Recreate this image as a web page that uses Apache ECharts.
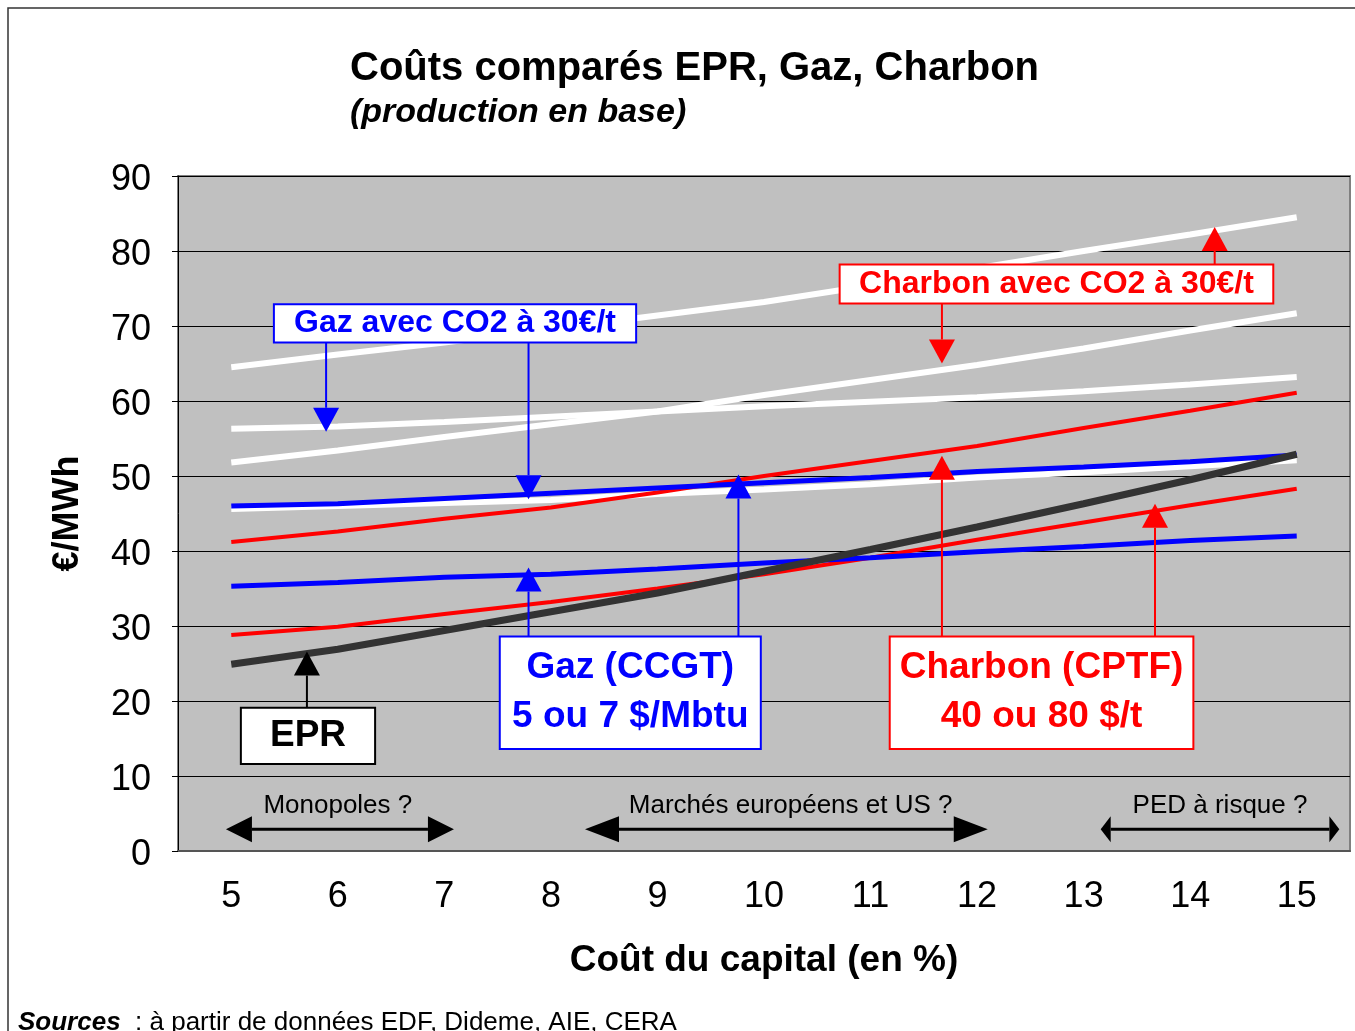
<!DOCTYPE html>
<html>
<head>
<meta charset="utf-8">
<title>Coûts comparés EPR, Gaz, Charbon</title>
<script src="https://cdn.jsdelivr.net/npm/echarts@6/dist/echarts.min.js"></script>
<style>
  html, body { margin: 0; padding: 0; background: #fff; }
  #main { width: 1355px; height: 1031px; }
</style>
</head>
<body>
<div id="main"></div>
<script>
// coût du capital (%)
var capital = ['5', '6', '7', '8', '9', '10', '11', '12', '13', '14', '15'];

// €/MWh
var epr          = [24.9, 26.9, 29.4, 31.9, 34.4, 37.3, 40.2, 43.2, 46.3, 49.5, 52.9];
var gaz5         = [35.3, 35.8, 36.5, 36.9, 37.6, 38.4, 39.1, 39.9, 40.6, 41.4, 42.0];
var gaz7         = [46.0, 46.3, 47.0, 47.7, 48.4, 49.1, 49.8, 50.6, 51.2, 51.9, 52.8];
var charbon40    = [28.8, 29.9, 31.6, 33.2, 35.0, 36.9, 39.1, 41.5, 43.8, 46.1, 48.3];
var charbon80    = [41.2, 42.6, 44.3, 45.8, 47.8, 50.0, 52.0, 54.0, 56.4, 58.7, 61.1];
var gaz5Co2      = [45.6, 46.0, 46.4, 46.8, 47.6, 48.2, 48.9, 49.8, 50.5, 51.3, 52.1];
var gaz7Co2      = [56.3, 56.6, 57.2, 57.9, 58.6, 59.3, 59.9, 60.5, 61.3, 62.2, 63.2];
var charbon40Co2 = [51.8, 53.4, 55.2, 56.9, 58.6, 60.8, 62.8, 64.8, 67.0, 69.4, 71.7];
var charbon80Co2 = [64.5, 66.2, 67.8, 69.6, 71.4, 73.2, 75.4, 77.7, 80.0, 82.2, 84.5];

var FONT = 'Arial, "Liberation Sans", sans-serif';
var BLUE = '#0000ff', RED = '#ff0000', BLACK = '#000000';

var chart = echarts.init(document.getElementById('main'));

function line(name, data, color, width) {
  return {
    name: name,
    type: 'line',
    data: data,
    symbol: 'none',
    lineStyle: { color: color, width: width, cap: 'butt' },
    silent: true
  };
}

var option = {
  animation: false,
  backgroundColor: '#ffffff',
  title: [{
    text: 'Coûts comparés EPR, Gaz, Charbon',
    left: 345,
    top: 44,
    textStyle: { fontFamily: FONT, fontSize: 40, fontWeight: 'bold', color: '#000' }
  }, {
    text: '(production en base)',
    left: 345,
    top: 91,
    textStyle: { fontFamily: FONT, fontSize: 34, fontWeight: 'bold', fontStyle: 'italic', color: '#000' }
  }, {
    text: '{b|Sources}  : à partir de données EDF, Dideme, AIE, CERA',
    left: 13,
    top: 1005,
    textStyle: {
      fontFamily: FONT, fontSize: 26, fontWeight: 'normal', color: '#000',
      rich: { b: { fontFamily: FONT, fontSize: 26, fontWeight: 'bold', fontStyle: 'italic', color: '#000' } }
    }
  }],
  grid: {
    left: 178, top: 176, width: 1172, height: 675,
    show: true, backgroundColor: '#c0c0c0', borderColor: '#808080', borderWidth: 2
  },
  xAxis: [{
    type: 'category',
    data: capital,
    boundaryGap: true,
    axisLine: { show: true, lineStyle: { color: '#555', width: 2 } },
    axisTick: { show: false },
    axisLabel: { fontFamily: FONT, fontSize: 36, color: '#000', margin: 28 },
    splitLine: { show: false },
    name: 'Coût du capital (en %)',
    nameLocation: 'middle',
    nameGap: 91,
    nameTextStyle: { fontFamily: FONT, fontSize: 37, fontWeight: 'bold', color: '#000' }
  }, {
    // axe caché pour placer les annotations en coordonnées (%)
    type: 'value', min: 4.5, max: 15.5, show: false
  }],
  yAxis: {
    type: 'value',
    min: 0, max: 90, interval: 10,
    axisLine: { show: true, lineStyle: { color: '#000', width: 1 } },
    axisTick: { show: true, length: 6, lineStyle: { color: '#000' } },
    axisLabel: {
      margin: 27,
      formatter: '{v|{value}}',
      rich: { v: { fontFamily: FONT, fontSize: 36, color: '#000', padding: [8, 0, 0, 0] } }
    },
    splitLine: { show: true, lineStyle: { color: '#000', width: 1 } },
    name: '€/MWh',
    nameLocation: 'middle',
    nameRotate: 90,
    nameGap: 92,
    nameTextStyle: { fontFamily: FONT, fontSize: 36, fontWeight: 'bold', color: '#000' }
  },
  series: [
    line('Gaz 5$ + CO2', gaz5Co2, '#ffffff', 6),
    line('Gaz 7$ + CO2', gaz7Co2, '#ffffff', 6),
    line('Charbon 40$ + CO2', charbon40Co2, '#ffffff', 6),
    line('Charbon 80$ + CO2', charbon80Co2, '#ffffff', 6),
    line('Charbon 40$', charbon40, RED, 4),
    line('Charbon 80$', charbon80, RED, 4),
    line('Gaz 5$', gaz5, BLUE, 5),
    line('Gaz 7$', gaz7, BLUE, 5),
    line('EPR', epr, '#333333', 7)
  ]
};
chart.setOption(option);

// annotations (coordonnées en % / €/MWh)
var boxes = [
  { text: 'Gaz avec CO2 à 30€/t', x0: 5.40, x1: 8.80, y0: 72.9, y1: 67.8, color: BLUE, size: 32 },
  { text: 'Charbon avec CO2 à 30€/t', x0: 10.71, x1: 14.78, y0: 78.2, y1: 73.0, color: RED, size: 32 },
  { text: 'EPR', x0: 5.09, x1: 6.35, y0: 19.1, y1: 11.6, color: BLACK, size: 37 },
  { text: 'Gaz (CCGT)\n5 ou 7 $/Mbtu', x0: 7.52, x1: 9.97, y0: 28.6, y1: 13.6, color: BLUE, size: 37 },
  { text: 'Charbon (CPTF)\n40 ou 80 $/t', x0: 11.18, x1: 14.03, y0: 28.6, y1: 13.6, color: RED, size: 37 }
];
var arrows = [
  { x: 5.89, from: 68.6, to: 55.9, color: BLUE },
  { x: 7.79, from: 68.6, to: 46.9, color: BLUE },
  { x: 11.67, from: 73.0, to: 65.0, color: RED },
  { x: 14.23, from: 78.2, to: 83.2, color: RED },
  { x: 5.71, from: 19.1, to: 26.6, color: BLACK },
  { x: 7.79, from: 28.6, to: 37.8, color: BLUE },
  { x: 9.76, from: 28.6, to: 50.2, color: BLUE },
  { x: 11.67, from: 28.6, to: 52.7, color: RED },
  { x: 13.67, from: 28.6, to: 46.3, color: RED }
];
var ranges = [
  { text: 'Monopoles ?', x0: 4.95, x1: 7.09, label: 6.0, head: 26 },
  { text: 'Marchés européens et US ?', x0: 8.32, x1: 12.10, label: 10.25, head: 34 },
  { text: 'PED à risque ?', x0: 13.16, x1: 15.40, label: 14.28, head: 10 }
];

function px(x, y) {
  return chart.convertToPixel({ xAxisIndex: 1, yAxisIndex: 0 }, [x, y]);
}

var graphics = [{
  type: 'rect', silent: true, z: 0,
  shape: { x: 8, y: 8, width: 1400, height: 1100 },
  style: { fill: 'none', stroke: '#333', lineWidth: 1.5 }
}];

arrows.forEach(function (a) {
  var p0 = px(a.x, a.from), p1 = px(a.x, a.to);
  var dir = p1[1] < p0[1] ? 1 : -1; // 1 = vers le haut
  var base = p1[1] + dir * 24;
  graphics.push({
    type: 'line', silent: true, z: 10,
    shape: { x1: p0[0], y1: p0[1], x2: p1[0], y2: base },
    style: { stroke: a.color, lineWidth: 2 }
  });
  graphics.push({
    type: 'polygon', silent: true, z: 10,
    shape: { points: [[p1[0], p1[1]], [p1[0] - 13, base], [p1[0] + 13, base]] },
    style: { fill: a.color }
  });
});

boxes.forEach(function (b) {
  var p0 = px(b.x0, b.y0), p1 = px(b.x1, b.y1);
  graphics.push({
    type: 'rect', silent: true, z: 11,
    shape: { x: p0[0], y: p0[1], width: p1[0] - p0[0], height: p1[1] - p0[1] },
    style: { fill: '#fff', stroke: b.color, lineWidth: 2 }
  });
  graphics.push({
    type: 'text', silent: true, z: 12,
    style: {
      text: b.text,
      x: (p0[0] + p1[0]) / 2, y: (p0[1] + p1[1]) / 2,
      textAlign: 'center', textVerticalAlign: 'middle',
      align: 'center', verticalAlign: 'middle',
      font: 'bold ' + b.size + 'px ' + FONT,
      lineHeight: 49,
      fill: b.color
    }
  });
});

ranges.forEach(function (r) {
  var a = px(r.x0, 2.9), b = px(r.x1, 2.9), c = px(r.label, 6.0);
  var y = a[1];
  graphics.push({
    type: 'line', silent: true, z: 10,
    shape: { x1: a[0] + r.head, y1: y, x2: b[0] - r.head, y2: y },
    style: { stroke: '#000', lineWidth: 3 }
  });
  graphics.push({
    type: 'polygon', silent: true, z: 10,
    shape: { points: [[a[0], y], [a[0] + r.head, y - 13], [a[0] + r.head, y + 13]] },
    style: { fill: '#000' }
  });
  graphics.push({
    type: 'polygon', silent: true, z: 10,
    shape: { points: [[b[0], y], [b[0] - r.head, y - 13], [b[0] - r.head, y + 13]] },
    style: { fill: '#000' }
  });
  graphics.push({
    type: 'text', silent: true, z: 10,
    style: {
      text: r.text, x: c[0], y: c[1],
      textAlign: 'center', textVerticalAlign: 'middle',
      align: 'center', verticalAlign: 'middle',
      font: '26px ' + FONT, fill: '#000'
    }
  });
});

chart.setOption({ graphic: graphics });
</script>
</body>
</html>
